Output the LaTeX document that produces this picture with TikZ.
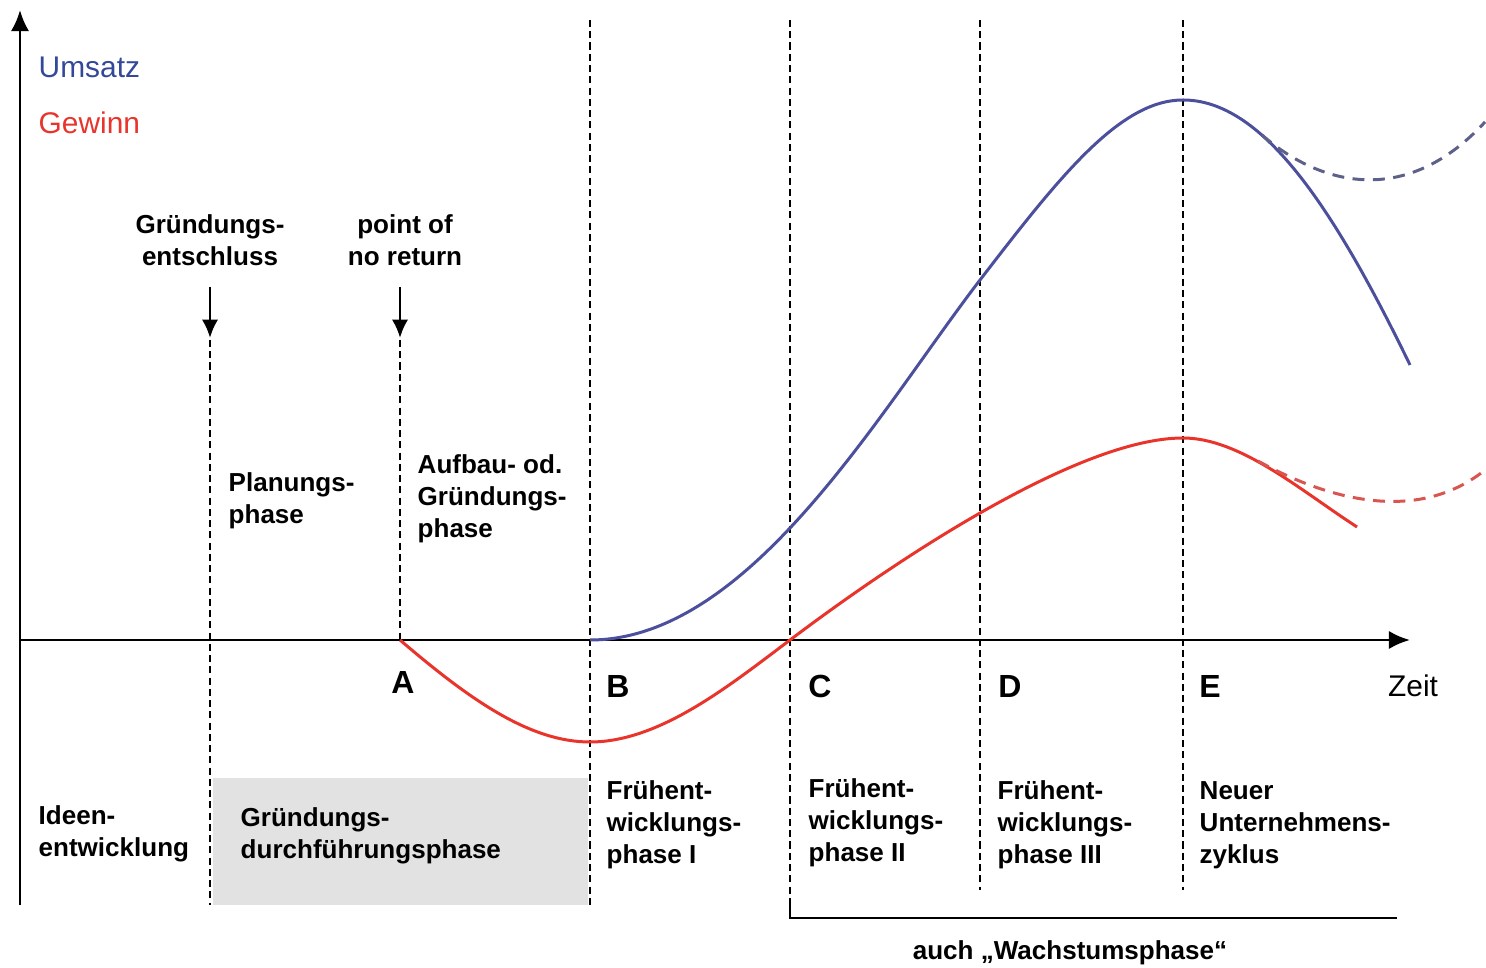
\documentclass[tikz,border=0pt]{standalone}
\usepackage{fontspec}
\setmainfont{Liberation Sans}
\usetikzlibrary{arrows.meta}

\definecolor{umsatzblue}{HTML}{4B4F9C}
\definecolor{umsatztext}{HTML}{34489A}
\definecolor{umsatzdash}{HTML}{5D6088}
\definecolor{gewinnred}{HTML}{E8342B}
\definecolor{gewinndash}{HTML}{D9554F}
\definecolor{boxgray}{HTML}{E2E2E2}

\tikzstyle{divider} = [line width=0.7pt, dash pattern=on 2pt off 1.2pt]
\tikzstyle{axis} = [line width=0.85pt, -{Latex[length=6pt,width=5.2pt]}]
\tikzstyle{pointer} = [line width=0.75pt, -{Latex[length=5.2pt,width=4.6pt]}]
\tikzstyle{txt} = [font=\fontsize{7.4}{9.1}\selectfont\bfseries, align=left, anchor=west]
\tikzstyle{ctxt} = [font=\fontsize{7.4}{9.1}\selectfont\bfseries, align=center]
\tikzstyle{letter} = [font=\fontsize{9.1}{11}\selectfont\bfseries]
\tikzstyle{legend} = [font=\fontsize{8.5}{10}\selectfont, anchor=west]
\tikzstyle{umsatz} = [umsatzblue, line width=0.85pt]
\tikzstyle{gewinn} = [gewinnred, line width=0.85pt]

\begin{document}
\begin{tikzpicture}[x=0.01cm,y=-0.01cm,every node/.style={inner sep=0pt}]
	\useasboundingbox (0,0) rectangle (1486,968);
	% grey box
	\fill[boxgray] (213,778) rectangle (588,905);
	% axes
	\coordinate (ybot) at (20,905);
	\coordinate (ytip) at (20,10);
	\coordinate (xstart) at (20,640);
	\coordinate (xtip) at (1410,640);
	\draw[axis] (ybot) -- (ytip);
	\draw[axis] (xstart) -- (xtip);
	% phase lines
	\foreach \x/\ya/\yb in {210/340/905, 400/340/640, 590/20/905, 790/20/905, 980/20/890, 1183/20/890}
		\draw[divider] (\x,\ya) -- (\x,\yb);
	\coordinate (wstart) at (790,905);
	\coordinate (wend) at (1397,918);
	\draw[line width=0.75pt] (wstart) |- (wend);
	% legend
	\node[legend, text=umsatztext] (umsatz) at (38,67) {Umsatz};
	\node[legend, text=gewinnred] (gewinn) at (38,123) {Gewinn};
	% top labels and arrows
	\node[ctxt] (entschluss) at (210,240) {Gründungs-\\entschluss};
	\node[ctxt] (noreturn) at (405,240) {point of\\no return};
	\coordinate (entfrom) at (210,287);
	\coordinate (entto) at (210,338);
	\coordinate (retfrom) at (400,287);
	\coordinate (retto) at (400,338);
	\draw[pointer] (entfrom) -- (entto);
	\draw[pointer] (retfrom) -- (retto);
	\node[txt] (planung) at (228,501) {Planungs-\\phase};
	\node[txt] (aufbau) at (417,499) {Aufbau- od.\\Gründungs-\\phase};
	% letters
	\node[letter] (A) at (403,682) {A};
	\node[letter] (B) at (618,686) {B};
	\node[letter] (C) at (820,686) {C};
	\node[letter] (D) at (1010,686) {D};
	\node[letter] (E) at (1210,686) {E};
	\node[legend, anchor=center] (zeit) at (1413,686) {Zeit};
	% phase names
	\node[txt] (ideen) at (38,834) {Ideen-\\entwicklung};
	\node[txt] (durchf) at (240,836) {Gründungs-\\durchführungsphase};
	\node[txt] (fruehI) at (606,825) {Frühent-\\wicklungs-\\phase I};
	\node[txt] (fruehII) at (808,823) {Frühent-\\wicklungs-\\phase II};
	\node[txt] (fruehIII) at (997,825) {Frühent-\\wicklungs-\\phase III};
	\node[txt] (neuer) at (1199,825) {Neuer\\Unternehmens-\\zyklus};
	\node[ctxt] (wachstum) at (1070,953) {auch „Wachstumsphase“};
	% curves
	\draw[umsatz] (590,640) .. controls (750,640) and (880,410) .. (980,280)
		.. controls (1060,176) and (1120,100) .. (1183,100)
		.. controls (1260,100) and (1330,200) .. (1410,365);
	\draw[umsatzdash, line width=0.85pt, dash pattern=on 3.4pt off 2.4pt] (1262,135) .. controls (1312,179) and (1400,214) .. (1485,122);
	\draw[gewinn] (400,640) .. controls (470,700) and (530,742) .. (590,742)
		.. controls (660,742) and (730,685) .. (790,640)
		.. controls (900,557) and (1080,438) .. (1183,438)
		.. controls (1240,438) and (1300,490) .. (1357,527);
	\draw[gewinndash, line width=0.85pt, dash pattern=on 3.4pt off 2.4pt] (1258,461) .. controls (1312,491) and (1410,530) .. (1485,470);
\end{tikzpicture}
\end{document}
